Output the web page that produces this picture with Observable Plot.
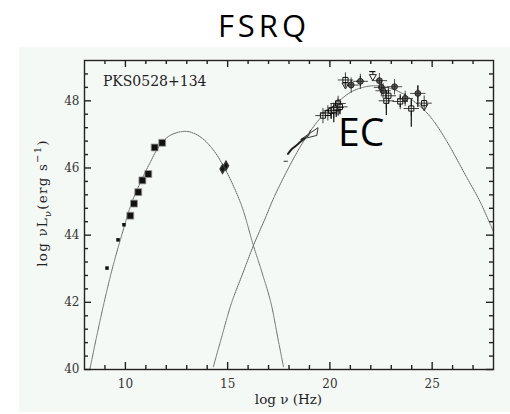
<!DOCTYPE html>
<html><head><meta charset="utf-8">
<script src="https://cdn.jsdelivr.net/npm/d3@7"></script>
<script src="https://cdn.jsdelivr.net/npm/@observablehq/plot@0.6"></script>
<style>
html,body{margin:0;padding:0;background:#fff;}
#wrap{position:relative;width:510px;height:414px;overflow:hidden;background:#fff;}
#title{position:absolute;left:0;top:9.5px;width:510px;text-align:center;font-family:"Open Sans";font-size:31px;line-height:31px;letter-spacing:4px;padding-left:18px;box-sizing:border-box;color:#000;}
#chart{position:absolute;left:19px;top:47px;}
</style></head><body>
<div id="wrap"><div id="title">FSRQ</div><div id="chart"></div></div>
<script>
// ---- model curves ----
const syncCurveX = [8.26, 8.6, 8.96, 9.38, 9.82, 10.3, 10.8, 11.2, 11.6, 12.16, 12.97, 13.6, 14.19, 14.83, 15.65, 16.26, 16.7, 17.11, 17.45, 17.73];
const syncCurveY = [40.0, 41.0, 42.0, 43.05, 44.0, 44.95, 45.66, 46.15, 46.6, 46.96, 47.09, 46.95, 46.62, 46.02, 44.93, 43.69, 42.85, 42.0, 40.95, 40.08];
const ecCurveX = [14.3, 14.7, 15.2, 15.7, 16.26, 16.8, 17.27, 18.08, 18.73, 19.54, 20.36, 21.0, 21.5, 22.2, 22.9, 23.6, 24.58, 25.06, 25.71, 26.69, 27.34, 28.0];
const ecCurveY = [40.08, 40.95, 42.0, 42.8, 43.69, 44.45, 45.13, 46.12, 46.81, 47.49, 47.95, 48.25, 48.38, 48.45, 48.38, 48.2, 47.74, 47.41, 46.8, 45.72, 45.0, 44.1];

// ---- observed points ----
const radioX = [9.1, 9.64, 9.93];
const radioY = [43.02, 43.86, 44.31];
const mmX = [10.24, 10.42, 10.63, 10.83, 11.12, 11.43, 11.8];
const mmY = [44.58, 44.94, 45.28, 45.63, 45.82, 46.61, 46.75];
const optX = [14.75, 14.92];
const optY = [45.97, 46.07];
const xDashX = [17.76, 17.92];
const xDashY = [46.2, 46.2];
const xArcX = [17.95, 18.15, 18.36, 18.56, 18.76];
const xArcY = [46.42, 46.57, 46.67, 46.78, 46.87];
const bowX = [18.58, 19.42, 19.36, 18.58, 18.95, 19.05];
const bowY = [46.85, 47.2, 46.97, 46.85, 46.95, 47.12];

const sqX  = [19.66, 19.9, 20.06, 20.19, 20.31, 20.4, 20.49, 20.76, 22.76, 22.86, 23.44, 23.98, 24.61];
const sqY  = [47.56, 47.64, 47.7, 47.72, 47.8, 47.92, 47.82, 48.62, 48.0, 48.15, 47.98, 47.77, 47.93];
const sqLo = [47.45, 47.55, 47.45, 47.35, 47.5, 47.55, 47.6, 48.55, 47.56, 47.95, 47.8, 47.21, 47.78];
const sqHi = [47.62, 47.7, 47.76, 47.78, 47.86, 48.05, 47.92, 48.7, 48.3, 48.32, 48.15, 48.05, 48.0];
const ciX  = [21.04, 21.49, 22.42, 22.52, 22.6, 23.16, 23.68, 24.3];
const ciY  = [48.47, 48.58, 48.6, 48.4, 48.3, 48.42, 48.07, 48.22];
const ciLo = [48.35, 48.42, 48.55, 48.3, 48.2, 48.38, 47.9, 47.8];
const ciHi = [48.6, 48.72, 48.65, 48.5, 48.38, 48.46, 48.2, 48.45];
const hbarX1 = [20.88, 21.3];
const hbarX2 = [21.2, 21.7];
const hbarY = [48.47, 48.58];
const triX = [20.76, 22.1, 24.61];
const triY = [48.47, 48.72, 47.83];
const ulX = [22.1];
const ulLo = [48.72];
const ulHi = [48.87];
const ulX1 = [21.95];
const ulX2 = [22.25];

// ---- axes ----
const xDomain = [8, 28];
const yDomain = [40, 49.2];
const xMajor = [10, 15, 20, 25];
const xMinor = [9, 11, 12, 13, 14, 16, 17, 18, 19, 21, 22, 23, 24, 26, 27];
const yMajor = [40, 42, 44, 46, 48];
const yMinor = [40.4, 40.8, 41.2, 41.6, 42.4, 42.8, 43.2, 43.6, 44.4, 44.8, 45.2, 45.6, 46.4, 46.8, 47.2, 47.6, 48.4, 48.8];

// ---- annotations ----
const srcName = ["PKS0528+134"];
const srcX = [8.9], srcY = [48.57];
const compName = ["EC"];
const compX = [21.53], compY = [47.02];

const zip = (xs, ys) => xs.map((x, i) => ({x, y: ys[i]}));
const syncCurve = zip(syncCurveX, syncCurveY);
const ecCurve = zip(ecCurveX, ecCurveY);
const radio = zip(radioX, radioY);
const mm = zip(mmX, mmY);
const opt = zip(optX, optY);
const xDash = zip(xDashX, xDashY);
const xArc = zip(xArcX, xArcY);
const bow = zip(bowX, bowY);
const sq = sqX.map((x, i) => ({x, y: sqY[i], lo: sqLo[i], hi: sqHi[i]}));
const ci = ciX.map((x, i) => ({x, y: ciY[i], lo: ciLo[i], hi: ciHi[i]}));
const hbar = hbarY.map((y, i) => ({y, x1: hbarX1[i], x2: hbarX2[i]}));
const tri = zip(triX, triY);
const ul = ulX.map((x, i) => ({x, lo: ulLo[i], hi: ulHi[i], x1: ulX1[i], x2: ulX2[i]}));
const src = srcName.map((t, i) => ({t, x: srcX[i], y: srcY[i]}));
const comp = compName.map((t, i) => ({t, x: compX[i], y: compY[i]}));

const W = 491, H = 365, ML = 65, MR = 17, MT = 13, MB = 43;
const PW = W - ML - MR, PH = H - MT - MB;
const MAJ = 7, MIN = 4;               // tick lengths in pixels
const xPerPx = (xDomain[1] - xDomain[0]) / PW;
const yPerPx = (yDomain[1] - yDomain[0]) / PH;
// inward ticks on the four sides of the frame (lengths converted from pixels)
const ticksBottom = [...xMajor.map(x => ({x, len: MAJ})), ...xMinor.map(x => ({x, len: MIN}))]
  .map(d => ({x: d.x, y1: yDomain[0], y2: yDomain[0] + d.len * yPerPx}));
const ticksTop = [...xMajor.map(x => ({x, len: MAJ})), ...xMinor.map(x => ({x, len: MIN}))]
  .map(d => ({x: d.x, y1: yDomain[1], y2: yDomain[1] - d.len * yPerPx}));
const ticksLeft = [...yMajor.map(y => ({y, len: MAJ})), ...yMinor.map(y => ({y, len: MIN}))]
  .map(d => ({y: d.y, x1: xDomain[0], x2: xDomain[0] + d.len * xPerPx}));
const ticksRight = [...yMajor.map(y => ({y, len: MAJ})), ...yMinor.map(y => ({y, len: MIN}))]
  .map(d => ({y: d.y, x1: xDomain[1], x2: xDomain[1] - d.len * xPerPx}));
const tk = {stroke: "#222", strokeWidth: 1.4};

const plot = Plot.plot({
  width: W, height: H,
  marginLeft: ML, marginRight: MR, marginTop: MT, marginBottom: MB,
  x: {domain: xDomain},
  y: {domain: yDomain},
  style: {background: "#f5f9f6", fontFamily: "DejaVu Serif", fontSize: "12px", color: "#222"},
  marks: [
    Plot.ruleX(ticksBottom, {x: "x", y1: "y1", y2: "y2", ...tk}),
    Plot.ruleX(ticksTop, {x: "x", y1: "y1", y2: "y2", ...tk}),
    Plot.ruleY(ticksLeft, {y: "y", x1: "x1", x2: "x2", ...tk}),
    Plot.ruleY(ticksRight, {y: "y", x1: "x1", x2: "x2", ...tk}),
    Plot.line(syncCurve, {x: "x", y: "y", curve: "catmull-rom", stroke: "#555", strokeWidth: 0.9, strokeDasharray: "1.2 1"}),
    Plot.line(ecCurve, {x: "x", y: "y", curve: "catmull-rom", stroke: "#555", strokeWidth: 0.9, strokeDasharray: "1.2 1"}),
    Plot.dot(radio, {x: "x", y: "y", symbol: "square", r: 2, fill: "#111"}),
    Plot.dot(mm, {x: "x", y: "y", symbol: "square", r: 3.9, fill: "#111", stroke: "#999", strokeWidth: 0.8}),
    Plot.dot(opt, {x: "x", y: "y", symbol: "diamond", r: 2.6, fill: "#111", stroke: "#333"}),
    Plot.line(xDash, {x: "x", y: "y", stroke: "#333", strokeWidth: 1.2}),
    Plot.line(xArc, {x: "x", y: "y", curve: "catmull-rom", stroke: "#222", strokeWidth: 2}),
    Plot.line(bow, {x: "x", y: "y", stroke: "#222", strokeWidth: 0.9}),
    Plot.ruleX(sq, {x: "x", y1: "lo", y2: "hi", stroke: "#111", strokeWidth: 1.2}),
    Plot.ruleX(ci, {x: "x", y1: "lo", y2: "hi", stroke: "#111", strokeWidth: 1.2}),
    Plot.ruleY(hbar, {y: "y", x1: "x1", x2: "x2", stroke: "#111", strokeWidth: 1.2}),
    Plot.ruleX(ul, {x: "x", y1: "lo", y2: "hi", stroke: "#111", strokeWidth: 1}),
    Plot.ruleY(ul, {y: "hi", x1: "x1", x2: "x2", stroke: "#111", strokeWidth: 1.2}),
    Plot.dot(tri, {x: "x", y: "y", symbol: "triangle", rotate: 180, r: 2.6, fill: "#f5f9f6", stroke: "#111", strokeWidth: 0.9}),
    Plot.dot(sq, {x: "x", y: "y", symbol: "square", r: 2.9, fill: "#f5f9f6", stroke: "#111", strokeWidth: 1}),
    Plot.dot(sq, {x: "x", y: "y", symbol: "plus", r: 5, stroke: "#111", strokeWidth: 0.8}),
    Plot.dot(ci, {x: "x", y: "y", symbol: "circle", r: 2.9, fill: "#666", stroke: "#222", strokeWidth: 1}),
    Plot.dot(ci, {x: "x", y: "y", symbol: "plus", r: 5, stroke: "#222", strokeWidth: 0.8}),
    Plot.text(src, {x: "x", y: "y", text: "t", textAnchor: "start", lineAnchor: "middle", fontFamily: "DejaVu Serif", fontSize: 14, fill: "#222"}),
    Plot.text(comp, {x: "x", y: "y", text: "t", textAnchor: "middle", lineAnchor: "middle", fontFamily: "Open Sans", fontSize: 39, fill: "#000"}),
    Plot.frame({stroke: "#222", strokeWidth: 1.4}),
    // tick labels
    Plot.axisX(xMajor, {anchor: "bottom", tickSize: 0, tickPadding: 10, label: null, fill: "#333", fontSize: 12}),
    Plot.axisY(yMajor, {anchor: "left", tickSize: 0, tickPadding: 5, label: null, fill: "#333", fontSize: 12})
  ]
});
document.getElementById("chart").appendChild(plot);

// axis titles with sub/superscripts
const svg = d3.select(plot);
svg.append("text")
  .attr("x", 269.5).attr("y", 357)
  .attr("text-anchor", "middle")
  .attr("font-family", "DejaVu Serif").attr("font-size", 13.5).attr("fill", "#222")
  .text("log ν (Hz)");
const yl = svg.append("text")
  .attr("transform", "translate(27.7,156) rotate(-90)")
  .attr("text-anchor", "middle")
  .attr("font-family", "DejaVu Serif").attr("font-size", 13.5).attr("fill", "#222")
  .attr("letter-spacing", 1.2);
yl.append("tspan").text("log νL");
yl.append("tspan").attr("dy", 4).attr("font-size", 10).text("ν");
yl.append("tspan").attr("dy", -4).text("(erg s");
yl.append("tspan").attr("dy", -6).attr("font-size", 10).text("−1");
yl.append("tspan").attr("dy", 6).text(")");
</script>
</body></html>
